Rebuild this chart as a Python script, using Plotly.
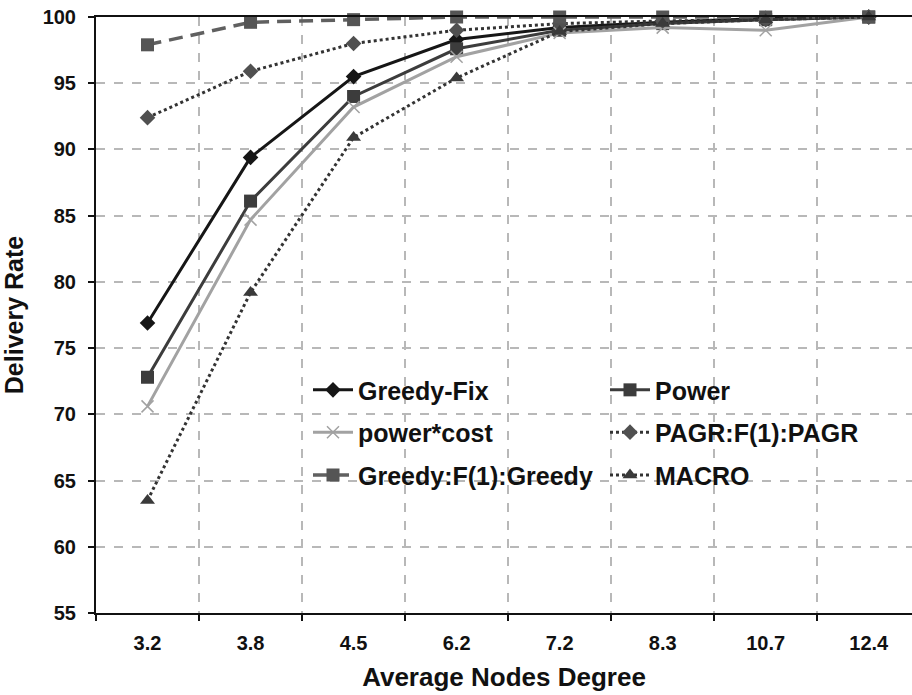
import plotly.graph_objects as go

categories = ["3.2", "3.8", "4.5", "6.2", "7.2", "8.3", "10.7", "12.4"]

greedy_fix = [76.9, 89.4, 95.5, 98.3, 99.2, 99.6, 99.9, 100.0]
power = [72.8, 86.1, 94.0, 97.6, 99.0, 99.5, 99.8, 100.0]
power_cost = [70.6, 84.7, 93.2, 97.0, 98.8, 99.2, 99.0, 100.0]
pagr = [92.4, 95.9, 98.0, 99.0, 99.5, 99.7, 99.8, 100.0]
greedy_f1 = [97.9, 99.6, 99.8, 100.0, 100.0, 100.0, 100.0, 100.0]
macro = [63.5, 79.2, 90.9, 95.4, 98.9, 99.5, 99.8, 100.0]

y_ticks = [55, 60, 65, 70, 75, 80, 85, 90, 95, 100]

FONT = "Liberation Sans, Arial, sans-serif"

fig = go.Figure()

def add(name, ys, color, mcolor, dash, symbol, msize, lw, legend):
    fig.add_trace(go.Scatter(
        x=categories, y=ys, name=name, mode="lines+markers",
        line=dict(color=color, width=lw, dash=dash),
        marker=dict(symbol=symbol, size=msize, color=mcolor,
                    line=dict(width=1.5 if "open" in symbol else 0, color=mcolor)),
        cliponaxis=False, legend=legend,
    ))

add("Greedy-Fix", greedy_fix, "#161616", "#161616", "solid", "diamond", 12, 3, "legend")
add("Power", power, "#3c3c3c", "#3c3c3c", "solid", "square", 13, 3, "legend")
add("power*cost", power_cost, "#a2a2a2", "#a2a2a2", "solid", "x-thin-open", 12, 3, "legend2")
add("PAGR:F(1):PAGR", pagr, "#333333", "#505050", "dot", "diamond", 12, 3, "legend2")
add("Greedy:F(1):Greedy", greedy_f1, "#606060", "#555555", "14px,8px", "square", 13, 3.5, "legend3")
add("MACRO", macro, "#333333", "#3a3a3a", "dot", "triangle-up", 13, 3, "legend3")

legend_common = dict(
    orientation="h", xanchor="left", yanchor="middle", x=0.2598,
    entrywidth=242, entrywidthmode="pixels", itemwidth=40,
    font=dict(family=FONT, size=25, color="#111111", weight="bold"),
    bgcolor="rgba(255,255,255,0)", borderwidth=0, itemclick=False,
)

fig.update_layout(
    width=912, height=695,
    margin=dict(l=96, r=0, t=17, b=82),
    plot_bgcolor="white", paper_bgcolor="white",
    font=dict(family=FONT, color="#111111"),
    legend=dict(y=0.374, **legend_common),
    legend2=dict(y=0.303, **legend_common),
    legend3=dict(y=0.231, **legend_common),
    xaxis=dict(
        type="category", range=[-0.5, 7.42],
        tickson="boundaries", ticks="outside", ticklen=6, tickwidth=1.5, tickcolor="#111111",
        showgrid=True, griddash="dash", gridcolor="#b8b8b8", gridwidth=1.5,
        showline=True, linecolor="#111111", linewidth=2, mirror=True,
        tickfont=dict(family=FONT, size=20, color="#111111", weight="bold"),
        ticklabelstandoff=11,
        title=dict(text="Average Nodes Degree", standoff=15,
                   font=dict(family=FONT, size=26, color="#111111", weight="bold")),
    ),
    yaxis=dict(
        range=[55, 100], tickvals=y_ticks,
        ticks="outside", ticklen=6, tickwidth=1.5, tickcolor="#111111",
        showgrid=True, griddash="dash", gridcolor="#b8b8b8", gridwidth=1.5,
        zeroline=False,
        showline=True, linecolor="#111111", linewidth=2,
        tickfont=dict(family=FONT, size=20, color="#111111", weight="bold"),
        ticklabelstandoff=8,
        title=dict(text="Delivery Rate", standoff=12,
                   font=dict(family=FONT, size=25, color="#111111", weight="bold")),
    ),
)

fig.write_html("out.html")
